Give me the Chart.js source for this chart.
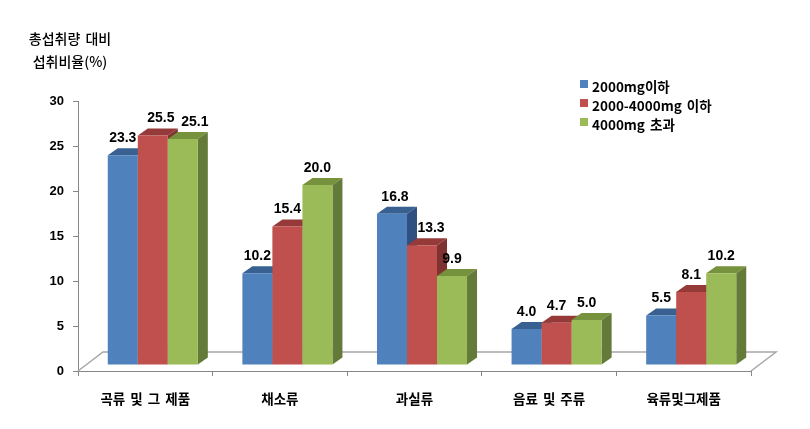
<!DOCTYPE html>
<html>
<head>
<meta charset="utf-8">
<script src="https://cdn.jsdelivr.net/npm/chart.js@4"></script>
<style>
html, body { margin: 0; padding: 0; background: #fff; }
canvas { display: block; }
</style>
</head>
<body>
<canvas id="myChart" width="810" height="429"></canvas>
<script>
// data
let categories = ['곡류 및 그 제품', '채소류', '과실류', '음료 및 주류', '육류및그제품'];
let lowSodium = [23.3, 10.2, 16.8, 4.0, 5.5];
let midSodium = [25.5, 15.4, 13.3, 4.7, 8.1];
let highSodium = [25.1, 20.0, 9.9, 5.0, 10.2];
let seriesNames = ['2000mg이하', '2000-4000mg 이하', '4000mg 초과'];
let yTicks = [0, 5, 10, 15, 20, 25, 30];
let yTitle = ['총섭취량 대비', '섭취비율(%)'];

let colors = ['#4F81BD', '#C0504D', '#9BBB59'];
let topColors = ['#386090', '#953A38', '#76923C'];
let sideColors = ['#2F5080', '#7F3230', '#647A38'];

// fake 3d: bars sit a bit inside the floor
let frontX = 7.5, frontY = -6;
let depthX = 10, depthY = -7;
let fontFam = '"Liberation Sans", "Noto Sans CJK KR", sans-serif';
let krFam = '"Noto Sans CJK KR", "Liberation Sans", sans-serif';
let labelNudge = [[0, 8, 12], [0, 0, 0], [3, 9, 0], [0, 0, 0], [0, 0, 0]];

function drawDepth(c, meta, i) {
    meta.data.forEach(bar => {
        let l = bar.x - bar.width / 2, r = bar.x + bar.width / 2;
        c.fillStyle = topColors[i];
        c.beginPath();
        c.moveTo(l, bar.y);
        c.lineTo(l + depthX, bar.y + depthY);
        c.lineTo(r + depthX, bar.y + depthY);
        c.lineTo(r, bar.y);
        c.fill();
        c.fillStyle = sideColors[i];
        c.beginPath();
        c.moveTo(r, bar.y);
        c.lineTo(r + depthX, bar.y + depthY);
        c.lineTo(r + depthX, bar.base + depthY);
        c.lineTo(r, bar.base);
        c.fill();
    });
}

let depthPlugin = {
    id: 'depth',
    beforeDraw(chart) {
        chart.ctx.wordSpacing = '2px';
    },
    beforeDatasetsDraw(chart) {
        let a = chart.chartArea, c = chart.ctx;
        c.save();
        c.strokeStyle = '#A6A6A6';
        c.lineWidth = 1.5;
        c.beginPath();
        c.moveTo(a.left, a.bottom);
        c.lineTo(a.left + 25, a.bottom - 19);
        c.lineTo(a.right + 25, a.bottom - 19);
        c.lineTo(a.right, a.bottom);
        c.stroke();
        c.restore();
    },
    // chart.js paints the first dataset last, here it has to go first
    beforeDatasetDraw() {
        return false;
    },
    afterDatasetsDraw(chart) {
        let c = chart.ctx;
        c.save();
        c.translate(frontX, frontY);
        chart.data.datasets.forEach((ds, i) => {
            let meta = chart.getDatasetMeta(i);
            drawDepth(c, meta, i);
            meta.controller.draw();
        });
        c.restore();

        c.save();
        c.fillStyle = '#000';
        c.textAlign = 'center';
        c.textBaseline = 'middle';
        c.font = 'bold 14px ' + fontFam;
        chart.data.datasets.forEach((ds, i) => {
            chart.getDatasetMeta(i).data.forEach((bar, j) => {
                c.fillText(ds.data[j].toFixed(1), bar.x + frontX + labelNudge[j][i], bar.y + frontY - 17);
            });
        });

        // legend
        c.textAlign = 'left';
        c.font = 'bold 13.5px ' + krFam;
        seriesNames.forEach((name, i) => {
            let y = 80 + i * 19;
            c.fillStyle = colors[i];
            c.fillRect(580, y, 8, 8);
            c.fillStyle = '#000';
            c.fillText(name, 592, y + 7);
        });

        // axis title
        c.textAlign = 'center';
        c.font = '500 14px ' + krFam;
        c.fillText(yTitle[0], 70, 39);
        c.fillText(yTitle[1], 70, 62);
        c.restore();
    }
};

let ctx = document.getElementById('myChart').getContext('2d');

let chart = new Chart(ctx, {
    type: 'bar',
    data: {
        labels: categories,
        datasets: [
            { label: seriesNames[0], data: lowSodium, backgroundColor: colors[0] },
            { label: seriesNames[1], data: midSodium, backgroundColor: colors[1] },
            { label: seriesNames[2], data: highSodium, backgroundColor: colors[2] }
        ]
    },
    options: {
        responsive: false,
        animation: false,
        devicePixelRatio: 1,
        layout: { padding: { top: 101, right: 59 } },
        datasets: { bar: { categoryPercentage: 0.669, barPercentage: 1 } },
        plugins: { legend: { display: false }, tooltip: { enabled: false } },
        scales: {
            x: {
                afterFit(scale) { scale.height = 58; },
                border: { color: '#868686' },
                grid: { drawOnChartArea: false, color: '#868686', tickLength: 5 },
                ticks: { color: '#000', padding: 15, maxRotation: 0, font: { family: krFam, size: 13.5, weight: 'bold' } }
            },
            y: {
                min: 0,
                max: 30,
                afterFit(scale) { scale.width = 78; },
                afterBuildTicks(scale) { scale.ticks = yTicks.map(v => ({ value: v })); },
                border: { color: '#868686' },
                grid: { drawOnChartArea: false, color: '#868686', tickLength: 5 },
                ticks: { color: '#000', padding: 9, font: { family: fontFam, size: 13, weight: 'bold' } }
            }
        }
    },
    plugins: [depthPlugin]
});
</script>
</body>
</html>
